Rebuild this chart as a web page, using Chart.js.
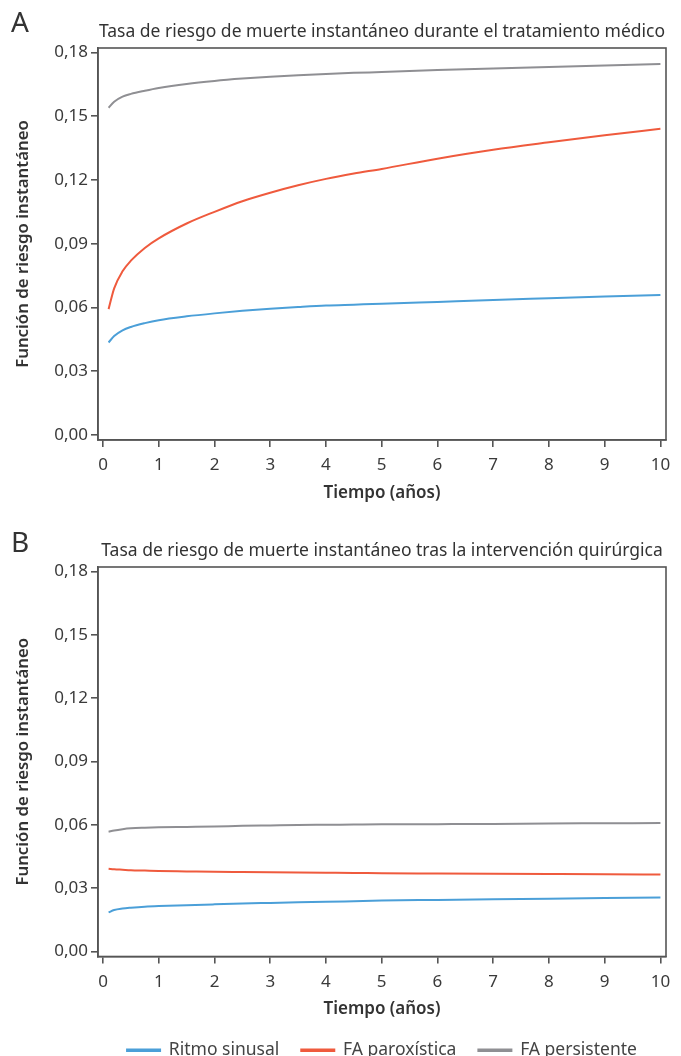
<!DOCTYPE html>
<html>
<head>
<meta charset="utf-8">
<script src="https://cdn.jsdelivr.net/npm/chart.js@4.4.0/dist/chart.umd.min.js"></script>
<style>
  body { margin: 0; background: #fff; width: 681px; height: 1056px; overflow: hidden; font-family: "Noto Sans", sans-serif; position: relative; }
  .panel { position: absolute; left: 0; width: 681px; }
  .letter { position: absolute; left: 11px; font-size: 28px; color: #333; line-height: 1; }
</style>
</head>
<body>
<div class="panel" style="top:0; height:503px"><canvas id="chartA"></canvas></div>
<div class="panel" style="top:519px; height:550px"><canvas id="chartB"></canvas></div>
<div class="letter" style="top:7px">A</div>
<div class="letter" style="top:527px">B</div>
<script>
// Tiempo (años) y series
const years = [0.1, 0.2, 0.35, 0.5, 0.75, 1, 1.5, 2, 2.5, 3, 3.5, 4, 4.5, 5, 6, 7, 8, 9, 10];
const seriesNames = ['Ritmo sinusal', 'FA paroxística', 'FA persistente'];
const seriesColors = ['#4b9fd8', '#ef5a3d', '#8f8f93'];

// A: durante el tratamiento médico
const medSinusal    = [0.0435, 0.0465, 0.0492, 0.0508, 0.0526, 0.0540, 0.0558, 0.0572, 0.0584, 0.0594, 0.0602, 0.0609, 0.0613, 0.0617, 0.0626, 0.0635, 0.0643, 0.0651, 0.0659];
const medParox      = [0.0592, 0.0690, 0.0770, 0.0820, 0.0880, 0.0925, 0.0995, 0.1050, 0.1100, 0.1140, 0.1175, 0.1205, 0.1230, 0.1252, 0.1300, 0.1342, 0.1377, 0.1410, 0.1441];
const medPersist    = [0.1540, 0.1568, 0.1592, 0.1605, 0.1620, 0.1633, 0.1652, 0.1666, 0.1677, 0.1686, 0.1693, 0.1699, 0.1704, 0.1708, 0.1717, 0.1725, 0.1732, 0.1739, 0.1746];

// B: tras la intervención quirúrgica
const quirSinusal   = [0.0185, 0.0196, 0.0203, 0.0207, 0.0212, 0.0215, 0.0219, 0.0223, 0.0227, 0.0230, 0.0233, 0.0235, 0.0238, 0.0241, 0.0244, 0.0247, 0.0250, 0.0253, 0.0256];
const quirParox     = [0.0392, 0.0389, 0.0387, 0.0385, 0.0383, 0.0381, 0.0379, 0.0377, 0.0376, 0.0375, 0.0374, 0.0373, 0.0372, 0.0370, 0.0369, 0.0368, 0.0367, 0.0366, 0.0364];
const quirPersist   = [0.0567, 0.0573, 0.0579, 0.0583, 0.0586, 0.0588, 0.0590, 0.0592, 0.0595, 0.0597, 0.0599, 0.0600, 0.0601, 0.0602, 0.0603, 0.0604, 0.0606, 0.0607, 0.0608];

// marcas de los ejes
const xTickValues = [0, 1, 2, 3, 4, 5, 6, 7, 8, 9, 10];
const yTickValues = [0, 0.03, 0.06, 0.09, 0.12, 0.15, 0.18];

const axisColor = '#555';
const textColor = '#3a3a3a';

// marco alrededor del área del gráfico
const framePlugin = {
    id: 'frame',
    afterDraw(chart) {
        const a = chart.chartArea, ctx = chart.ctx;
        ctx.save();
        ctx.strokeStyle = axisColor;
        ctx.lineWidth = 1.6;
        ctx.strokeRect(a.left, a.top, a.right - a.left, a.bottom - a.top);
        ctx.restore();
    }
};

function makeDatasets(values) {
    return values.map((v, i) => ({
        label: seriesNames[i],
        data: years.map((x, j) => ({ x: x, y: v[j] })),
        borderColor: seriesColors[i],
        backgroundColor: seriesColors[i],
        borderWidth: 2,
        pointRadius: 0,
        cubicInterpolationMode: 'monotone'
    }));
}

function makeOptions(title, showLegend) {
    return {
        responsive: true,
        maintainAspectRatio: false,
        animation: false,
        layout: { padding: { left: 0, right: 15, top: 0, bottom: 0 } },
        plugins: {
            title: {
                display: true,
                text: title,
                fullSize: false,
                color: '#333',
                font: { family: 'Noto Sans', size: 17.5, weight: 'normal' },
                padding: { top: 22, bottom: 5 }
            },
            legend: {
                display: showLegend,
                position: 'bottom',
                fullSize: false,
                labels: {
                    color: '#444',
                    font: { family: 'Noto Sans', size: 17.5 },
                    boxWidth: 33,
                    boxHeight: 1.5,
                    padding: 22
                }
            },
            tooltip: { enabled: false }
        },
        scales: {
            x: {
                type: 'linear',
                min: -0.09,
                max: 10.1,
                bounds: 'data',
                afterBuildTicks(s) { s.ticks = xTickValues.map(v => ({ value: v })); },
                afterFit(s) { s.height = 63; },
                border: { color: axisColor, width: 1.6 },
                grid: { drawOnChartArea: false, drawTicks: true, tickLength: 7, color: axisColor, lineWidth: 1.6 },
                ticks: { color: textColor, padding: 8,
                         font: { family: 'Noto Sans', size: 17 } },
                title: { display: true, text: 'Tiempo (años)', color: '#333', padding: 0,
                         font: { family: 'Noto Sans', size: 17, weight: '600' } }
            },
            y: {
                min: -0.0024,
                max: 0.1821,
                bounds: 'data',
                afterBuildTicks(s) { s.ticks = yTickValues.map(v => ({ value: v })); },
                afterFit(s) { s.width = 98; },
                border: { color: axisColor, width: 1.6 },
                grid: { drawOnChartArea: false, drawTicks: true, tickLength: 7, color: axisColor, lineWidth: 1.6 },
                ticks: { color: textColor, padding: 3,
                         font: { family: 'Noto Sans', size: 17 },
                         callback: v => v.toFixed(2).replace('.', ',') },
                title: { display: true, text: 'Función de riesgo instantáneo', color: '#333', padding: 13,
                         font: { family: 'Noto Sans', size: 16.8, weight: '600' } }
            }
        }
    };
}

new Chart(document.getElementById('chartA'), {
    type: 'line',
    data: { datasets: makeDatasets([medSinusal, medParox, medPersist]) },
    options: makeOptions('Tasa de riesgo de muerte instantáneo durante el tratamiento médico', false),
    plugins: [framePlugin]
});

new Chart(document.getElementById('chartB'), {
    type: 'line',
    data: { datasets: makeDatasets([quirSinusal, quirParox, quirPersist]) },
    options: makeOptions('Tasa de riesgo de muerte instantáneo tras la intervención quirúrgica', true),
    plugins: [framePlugin]
});
</script>
</body>
</html>
